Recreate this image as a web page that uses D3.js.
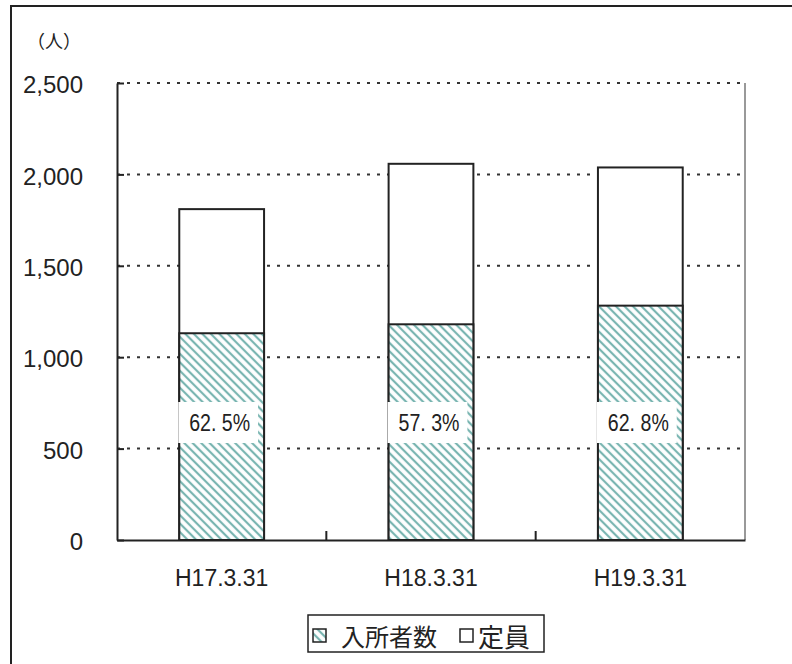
<!DOCTYPE html>
<html>
<head>
<meta charset="utf-8">
<script src="https://cdn.jsdelivr.net/npm/d3@7"></script>
<style>
  body { margin: 0; background: #fff; }
  text { fill: #222; }
</style>
</head>
<body>
<script>
// data
var categories = ["H17.3.31", "H18.3.31", "H19.3.31"];
var capacity = [1810, 2058, 2038];     // 定員
var residents = [1131, 1180, 1282];    // 入所者数
var rateLabels = ["62. 5%", "57. 3%", "62. 8%"];
var yTicks = [0, 500, 1000, 1500, 2000, 2500];
var legendNames = ["入所者数", "定員"];
var labelAt = 640; // value where the rate labels sit

var W = 792, H = 664;
var plotL = 117, plotR = 745, plotT = 83, plotB = 540;

var svg = d3.select("body")
    .append("svg")
    .attr("width", W)
    .attr("height", H);

var defs = svg.append("defs");
var pat = defs.append("pattern")
    .attr("id", "hatch")
    .attr("patternUnits", "userSpaceOnUse")
    .attr("width", 8)
    .attr("height", 6)
    .attr("patternTransform", "rotate(45)");
pat.append("rect").attr("width", 8).attr("height", 6).attr("fill", "#fff");
pat.append("line")
    .attr("x1", 0).attr("x2", 8)
    .attr("y1", 3).attr("y2", 3)
    .attr("stroke", "#79b5b1")
    .attr("stroke-width", 2.2);

// outer frame
svg.append("path")
    .attr("d", "M11," + H + "V6H" + W)
    .attr("fill", "none")
    .attr("stroke", "#222")
    .attr("stroke-width", 2);

var y = d3.scaleLinear().domain([0, 2500]).range([plotB, plotT]);
var x = d3.scaleBand().domain(categories).range([plotL, plotR])
    .paddingInner(0.595).paddingOuter(0.2975);
var slots = d3.scaleBand().domain(categories).range([plotL, plotR]);

// unit
svg.append("text")
    .attr("x", 27)
    .attr("y", 40)
    .attr("dominant-baseline", "central")
    .style("font-family", "'Noto Sans CJK JP', sans-serif")
    .style("font-size", "18px")
    .text("（人）");

// dotted gridlines
svg.append("g").selectAll("line")
    .data(yTicks.filter(function(d) { return d > 0; }))
    .enter().append("line")
    .attr("x1", plotL).attr("x2", plotR)
    .attr("y1", function(d) { return y(d); })
    .attr("y2", function(d) { return y(d); })
    .attr("stroke", "#333")
    .attr("stroke-width", 2)
    .attr("stroke-dasharray", "3,7");

// right border of the plot
svg.append("line")
    .attr("x1", plotR).attr("x2", plotR)
    .attr("y1", plotT).attr("y2", plotB)
    .attr("stroke", "#777")
    .attr("stroke-width", 1.5);

// bars
var bars = svg.append("g").selectAll("g")
    .data(categories)
    .enter().append("g");

bars.append("rect")
    .attr("x", function(d) { return x(d); })
    .attr("width", x.bandwidth())
    .attr("y", function(d, i) { return y(capacity[i]); })
    .attr("height", function(d, i) { return y(0) - y(capacity[i]); })
    .attr("fill", "#fff")
    .attr("stroke", "#222")
    .attr("stroke-width", 2);

bars.append("rect")
    .attr("x", function(d) { return x(d); })
    .attr("width", x.bandwidth())
    .attr("y", function(d, i) { return y(residents[i]); })
    .attr("height", function(d, i) { return y(0) - y(residents[i]); })
    .attr("fill", "url(#hatch)")
    .attr("stroke", "#222")
    .attr("stroke-width", 2);

bars.append("rect")
    .attr("x", function(d) { return x(d) - 1; })
    .attr("width", x.bandwidth() - 5)
    .attr("y", y(labelAt) - 21)
    .attr("height", 41)
    .attr("fill", "#fff");

bars.append("text")
    .attr("x", function(d) { return x(d) + x.bandwidth() / 2 - 2; })
    .attr("y", y(labelAt))
    .attr("dy", "0.36em")
    .attr("text-anchor", "middle")
    .attr("textLength", 61)
    .attr("lengthAdjust", "spacingAndGlyphs")
    .style("font-family", "'Liberation Sans', sans-serif")
    .style("font-size", "23px")
    .text(function(d, i) { return rateLabels[i]; });

// y axis
var yAxis = svg.append("g")
    .attr("transform", "translate(" + plotL + ",0)")
    .call(d3.axisLeft(y).tickValues(yTicks).tickFormat(d3.format(","))
        .tickSizeInner(-7).tickSizeOuter(0).tickPadding(34));
yAxis.select(".domain").attr("stroke", "#222").attr("stroke-width", 2);
yAxis.selectAll(".tick line").attr("stroke", "#222").attr("stroke-width", 2);
yAxis.selectAll(".tick text")
    .attr("dy", "0.4em")
    .attr("fill", "#222")
    .style("font-family", "'Liberation Sans', Arial, sans-serif")
    .style("font-size", "24px");

// x axis
var xAxis = svg.append("g")
    .attr("transform", "translate(0," + plotB + ")")
    .call(d3.axisBottom(slots).tickSize(0).tickPadding(46));
xAxis.select(".domain").attr("stroke", "#222").attr("stroke-width", 2);
xAxis.selectAll(".tick text")
    .attr("dy", 0)
    .attr("fill", "#222")
    .style("font-family", "'Liberation Sans', Arial, sans-serif")
    .style("font-size", "23px");

// tick marks between categories
xAxis.selectAll(".sep")
    .data(categories.slice(1))
    .enter().append("line")
    .attr("class", "sep")
    .attr("x1", function(d) { return slots(d); })
    .attr("x2", function(d) { return slots(d); })
    .attr("y1", 0).attr("y2", -9)
    .attr("stroke", "#222")
    .attr("stroke-width", 2);

// legend
var lg = svg.append("g");
lg.append("rect")
    .attr("x", 308).attr("y", 615)
    .attr("width", 236).attr("height", 37)
    .attr("fill", "#fff")
    .attr("stroke", "#222")
    .attr("stroke-width", 1.5);

var items = lg.selectAll("g.item")
    .data(legendNames)
    .enter().append("g")
    .attr("class", "item")
    .attr("transform", function(d, i) { return "translate(" + (i === 0 ? 313 : 460) + ",629)"; });

items.append("rect")
    .attr("width", 13).attr("height", 13)
    .attr("fill", function(d, i) { return i === 0 ? "url(#hatch)" : "#fff"; })
    .attr("stroke", "#222")
    .attr("stroke-width", 1.5);

items.append("text")
    .attr("x", function(d, i) { return i === 0 ? 28 : 18; })
    .attr("y", 6)
    .attr("dominant-baseline", "central")
    .style("font-family", "'Noto Sans CJK JP', sans-serif")
    .style("font-size", function(d, i) { return i === 0 ? "24px" : "26px"; })
    .text(function(d) { return d; });
</script>
</body>
</html>
